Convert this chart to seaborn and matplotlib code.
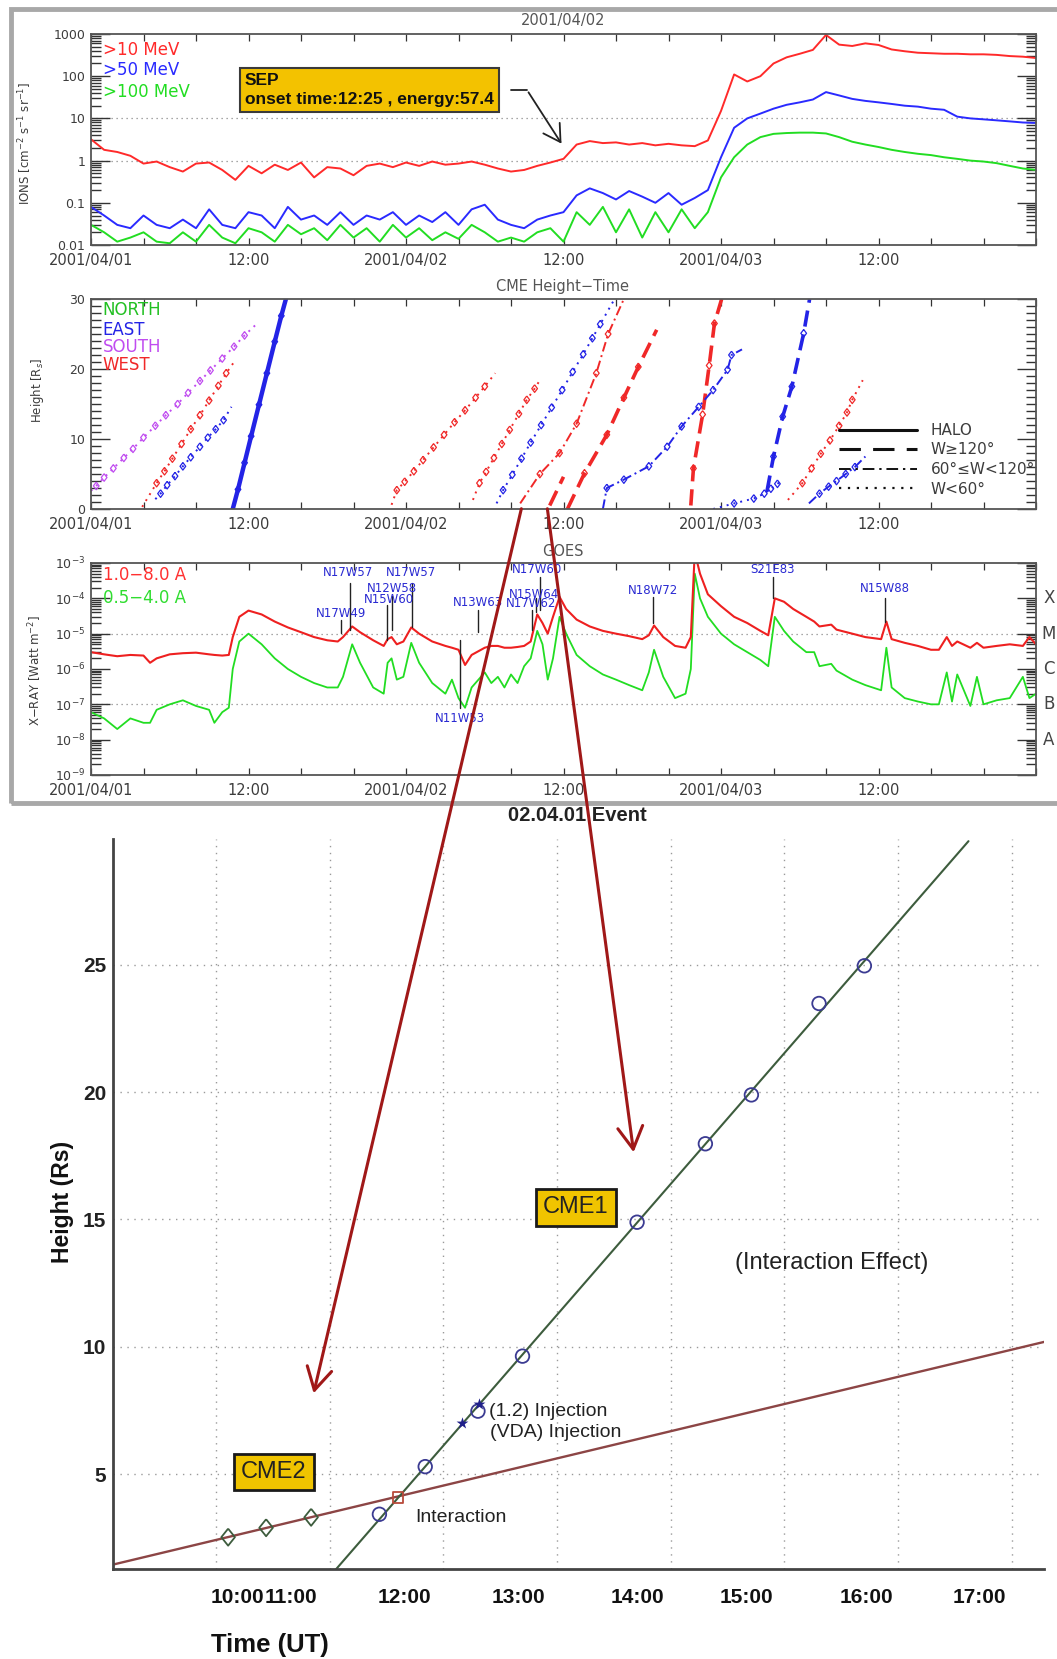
import numpy as np
import pandas as pd
import matplotlib
matplotlib.use("Agg")
import matplotlib.pyplot as plt
import seaborn as sns
from matplotlib.patches import Rectangle, FancyArrowPatch
from matplotlib.lines import Line2D
from matplotlib.ticker import FixedLocator, MultipleLocator, LogLocator, NullFormatter

# ====================== DATA ======================
date_hours = [0, 12, 24, 36, 48, 60]
date_labels = ["2001/04/01", "12:00", "2001/04/02", "12:00", "2001/04/03", "12:00"]

# --- SEP proton flux (hourly) ---
sep_hours = list(range(73))
sep_gt10 = [3.2, 1.8, 1.6, 1.3, 0.85, 0.95, 0.7, 0.55, 0.85, 0.9, 0.6, 0.35, 0.75, 0.5, 0.8, 0.6,
            0.9, 0.4, 0.7, 0.65, 0.45, 0.75, 0.85, 0.7, 0.9, 0.75, 0.95, 0.8, 0.85, 0.95, 0.8, 0.65,
            0.55, 0.6, 0.75, 0.9, 1.1, 2.4, 2.9, 2.6, 2.7, 2.4, 2.6, 2.3, 2.5, 2.3, 2.2, 3.0,
            15, 110, 75, 100, 200, 280, 340, 420, 950, 560, 520, 600, 550, 430, 390, 360, 350,
            340, 340, 330, 330, 320, 300, 290, 270]
sep_gt50 = [0.08, 0.05, 0.03, 0.025, 0.05, 0.03, 0.025, 0.04, 0.025, 0.07, 0.03, 0.025, 0.06, 0.05,
            0.025, 0.08, 0.04, 0.05, 0.03, 0.06, 0.03, 0.05, 0.04, 0.06, 0.03, 0.05, 0.035, 0.06,
            0.03, 0.07, 0.09, 0.04, 0.03, 0.025, 0.04, 0.05, 0.06, 0.15, 0.22, 0.17, 0.12, 0.19,
            0.14, 0.1, 0.17, 0.09, 0.13, 0.2, 1.2, 6, 10, 13, 17, 21, 24, 28, 42, 35, 29, 26, 24,
            22, 20, 19, 17, 16, 11, 10, 9.5, 9, 8.5, 8, 7.8]
sep_gt100 = [0.03, 0.02, 0.012, 0.015, 0.02, 0.012, 0.011, 0.02, 0.012, 0.03, 0.015, 0.011, 0.025,
             0.02, 0.012, 0.03, 0.018, 0.025, 0.013, 0.03, 0.015, 0.025, 0.012, 0.03, 0.015, 0.025,
             0.013, 0.02, 0.014, 0.03, 0.02, 0.012, 0.015, 0.012, 0.02, 0.025, 0.012, 0.06, 0.03,
             0.08, 0.02, 0.07, 0.015, 0.06, 0.02, 0.07, 0.025, 0.06, 0.4, 1.2, 2.4, 3.6, 4.3, 4.5,
             4.6, 4.6, 4.4, 3.6, 2.8, 2.4, 2.1, 1.8, 1.6, 1.45, 1.35, 1.2, 1.1, 1.0, 0.95, 0.87,
             0.75, 0.65, 0.6]
sep_labels = [">10 MeV", ">50 MeV", ">100 MeV"]
sep_yticks = [0.01, 0.1, 1, 10, 100, 1000]
sep_yticklabels = ["0.01", "0.1", "1", "10", "100", "1000"]

# --- CME height-time tracks ---
cme_dirs = ["SOUTH", "WEST", "EAST", "EAST", "WEST", "WEST", "EAST", "WEST",
            "WEST", "WEST", "WEST", "EAST", "EAST", "EAST", "WEST", "EAST"]
cme_widths = ["W<60", "W<60", "W<60", "HALO", "W<60", "W<60", "W<60", "60-120",
              "W>=120", "W>=120", "W>=120", "60-120", "W<60", "W>=120", "W<60", "60-120"]
cme_times = [
    [0.0, 0.4, 1.0, 1.7, 2.5, 3.2, 4.0, 4.9, 5.7, 6.6, 7.4, 8.3, 9.1, 10.0, 10.9, 11.7, 12.6],
    [3.9, 5.0, 5.6, 6.2, 6.9, 7.6, 8.3, 9.0, 9.7, 10.3, 10.9],
    [4.9, 5.3, 5.8, 6.4, 7.0, 7.6, 8.3, 8.9, 9.5, 10.1, 10.7],
    [10.8, 11.2, 11.7, 12.2, 12.8, 13.4, 14.0, 14.5, 14.85],
    [22.9, 23.3, 23.9, 24.6, 25.3, 26.1, 26.9, 27.7, 28.5, 29.3, 30.0, 30.8],
    [29.1, 29.6, 30.1, 30.7, 31.3, 31.9, 32.6, 33.2, 33.8, 34.3],
    [30.9, 31.4, 32.1, 32.8, 33.5, 34.3, 35.1, 35.9, 36.7, 37.5, 38.2, 38.8, 39.8],
    [32.7, 34.2, 35.7, 37.0, 38.5, 39.4, 40.6],
    [36.3, 37.6, 39.3, 40.6, 41.7, 43.1],
    [34.95, 36.0],
    [45.7, 45.9, 46.6, 47.1, 47.5, 48.05],
    [39.0, 39.3, 40.6, 42.5, 43.9, 45.0, 46.3, 47.4, 48.5, 48.8, 49.6],
    [47.4, 49.0, 50.5, 51.3, 51.8, 52.3, 52.6],
    [51.5, 52.0, 52.7, 53.4, 54.3, 54.75],
    [53.1, 54.2, 54.9, 55.6, 56.3, 57.0, 57.6, 58.0, 58.8],
    [54.7, 55.5, 56.2, 56.8, 57.5, 58.2, 59.0],
]
cme_heights = [
    [2.6, 3.3, 4.5, 5.8, 7.3, 8.6, 10.2, 11.9, 13.4, 15.0, 16.6, 18.3, 19.8, 21.5, 23.2, 24.8, 26.4],
    [0.3, 3.7, 5.4, 7.2, 9.3, 11.4, 13.4, 15.5, 17.6, 19.4, 21.0],
    [1.4, 2.2, 3.4, 4.7, 6.1, 7.4, 8.9, 10.2, 11.4, 12.7, 14.6],
    [0.0, 2.8, 6.6, 10.4, 14.9, 19.4, 23.9, 27.6, 30.0],
    [0.6, 2.7, 3.9, 5.4, 7.0, 8.8, 10.6, 12.4, 14.1, 15.9, 17.5, 19.4],
    [1.3, 3.7, 5.3, 7.3, 9.3, 11.3, 13.6, 15.6, 17.2, 18.7],
    [0.8, 2.7, 4.9, 7.2, 9.5, 12.0, 14.5, 17.0, 19.6, 22.1, 24.4, 26.4, 29.7],
    [0.8, 5.0, 8.0, 12.2, 19.4, 25.0, 30.0],
    [0.0, 5.1, 10.6, 15.9, 20.3, 25.6],
    [0.5, 4.6],
    [0.5, 5.8, 13.5, 20.5, 26.5, 30.0],
    [0.0, 3.0, 4.2, 6.1, 8.9, 11.8, 14.6, 17.0, 19.9, 22.0, 22.8],
    [0.0, 0.8, 1.5, 2.2, 2.9, 3.6, 4.0],
    [2.5, 7.5, 13.2, 17.5, 25.1, 30.0],
    [1.3, 3.7, 5.8, 7.9, 9.8, 11.9, 13.8, 15.6, 18.4],
    [0.8, 2.2, 3.2, 4.0, 5.0, 6.0, 7.5],
]
dir_labels = ["NORTH", "EAST", "SOUTH", "WEST"]
width_keys = ["HALO", "W>=120", "60-120", "W<60"]
width_labels = ["HALO", "W\u2265120\u00b0", "60\u00b0\u2264W<120\u00b0", "W<60\u00b0"]

# --- GOES X-ray flux ---
goes_hours = [0, 1, 2, 3, 4, 4.5, 5, 6, 7, 8, 9, 9.4, 10, 10.5, 10.8, 11.3, 12, 13, 14, 15, 16,
              17, 18, 18.8, 19.2, 19.9, 20.5, 21.5, 22.3, 22.6, 22.9, 23.3, 23.8, 24.4, 25, 26,
              27, 27.5, 28, 28.5, 29, 30, 30.5, 31, 31.5, 32, 32.5, 33, 33.5, 34.0, 34.4, 34.8,
              35.2, 35.7, 36.2, 37, 38, 39, 40, 41, 42, 42.5, 42.9, 43.6, 44.5, 45.3, 45.7, 46.0,
              46.4, 47, 48, 49, 50, 51, 51.6, 52.1, 52.8, 53.5, 54.5, 55.1, 55.5, 56.4, 56.8, 58,
              59, 60.2, 60.6, 61, 62, 63, 64, 64.6, 65.2, 65.6, 66, 67, 67.5, 68, 69, 70, 71,
              71.5, 72]
goes_long = [3.0e-6, 2.6e-6, 2.3e-6, 2.5e-6, 2.4e-6, 1.5e-6, 2.0e-6, 2.6e-6, 2.8e-6, 2.9e-6,
             2.6e-6, 2.5e-6, 2.4e-6, 2.5e-6, 8e-6, 3e-5, 4.5e-5, 3.5e-5, 2.2e-5, 1.5e-5, 1.1e-5,
             8e-6, 6.5e-6, 6e-6, 8e-6, 1.6e-5, 1.1e-5, 6.5e-6, 4.5e-6, 7e-6, 8e-6, 5e-6, 6e-6,
             1.5e-5, 1.0e-5, 6e-6, 4.5e-6, 4e-6, 3.5e-6, 1.3e-6, 2.5e-6, 4e-6, 4.5e-6, 4.5e-6,
             4e-6, 4e-6, 4.2e-6, 4.5e-6, 6e-6, 3.5e-5, 2e-5, 1e-5, 3e-5, 1.1e-4, 5e-5, 2.5e-5,
             1.6e-5, 1.2e-5, 1e-5, 8.5e-6, 7e-6, 9e-6, 1.7e-5, 8e-6, 4.5e-6, 4e-6, 8e-6, 2e-3,
             5e-4, 1.3e-4, 6e-5, 3e-5, 2e-5, 1.2e-5, 9e-6, 1e-4, 8e-5, 5e-5, 3e-5, 2.2e-5,
             1.6e-5, 1.8e-5, 1.3e-5, 1e-5, 8e-6, 7e-6, 2.2e-5, 7e-6, 5.5e-6, 4.5e-6, 3.5e-6,
             3.5e-6, 8e-6, 4.5e-6, 6e-6, 4e-6, 5.5e-6, 4e-6, 4.5e-6, 5e-6, 4.5e-6, 8e-6, 5e-6]
goes_short = [6e-8, 4e-8, 2e-8, 4e-8, 3e-8, 3e-8, 7e-8, 1e-7, 1.3e-7, 9e-8, 7e-8, 3e-8, 6e-8,
              8e-8, 1e-6, 6e-6, 1e-5, 5e-6, 2e-6, 1e-6, 6e-7, 4e-7, 3e-7, 3e-7, 6e-7, 5e-6,
              1.5e-6, 3e-7, 2e-7, 1.5e-6, 2e-6, 5e-7, 6e-7, 5.5e-6, 1.5e-6, 4e-7, 2e-7, 5e-7,
              1.5e-7, 8e-8, 3e-7, 8e-7, 4e-7, 6e-7, 3e-7, 7e-7, 4e-7, 1.2e-6, 2e-6, 1.2e-5,
              5e-6, 5e-7, 2e-6, 3e-5, 1e-5, 2.5e-6, 1.2e-6, 7e-7, 5e-7, 3.5e-7, 2.5e-7, 8e-7,
              3.5e-6, 6e-7, 1.5e-7, 2e-7, 1e-6, 5e-4, 1e-4, 3e-5, 1e-5, 5e-6, 3e-6, 1.8e-6,
              1.2e-6, 3e-5, 1.2e-5, 6e-6, 3e-6, 3e-6, 1.2e-6, 1.4e-6, 9e-7, 5e-7, 3.5e-7,
              2.5e-7, 4e-6, 3e-7, 1.5e-7, 1.2e-7, 1e-7, 1e-7, 8e-7, 1.2e-7, 7e-7, 9e-8, 6e-7,
              1e-7, 1.3e-7, 1.5e-7, 6e-7, 1.5e-7, 2e-7]
goes_labels = ["1.0\u22128.0 A", "0.5\u22124.0 A"]
goes_yticks = [1e-9, 1e-8, 1e-7, 1e-6, 1e-5, 1e-4, 1e-3]
goes_yticklabels = ["10$^{-9}$", "10$^{-8}$", "10$^{-7}$", "10$^{-6}$", "10$^{-5}$",
                    "10$^{-4}$", "10$^{-3}$"]
goes_classes = ["X", "M", "C", "B", "A"]
goes_class_levels = [1e-4, 1e-5, 1e-6, 1e-7, 1e-8]

flare_names = ["N17W49", "N17W57", "N15W60", "N12W58", "N17W57", "N11W53", "N13W63",
               "N17W62", "N15W64", "N17W60", "N18W72", "S21E83", "N15W88"]
flare_label_hours = [19.05, 19.58, 22.7, 22.93, 24.38, 28.11, 29.49, 33.52, 33.75, 33.98,
                     42.82, 51.89, 60.5]
flare_label_levels = [-4.44, -3.28, -4.02, -3.71, -3.28, -7.39, -4.13, -4.16, -3.88, -3.17,
                      -3.79, -3.17, -3.71]
flare_line_hours = [19.05, 19.73, 22.55, 22.93, 24.46, 28.1, 29.5, 33.58, 33.9, 34.2,
                    42.8, 51.96, 60.5]
flare_line_top = [-4.61, -3.57, -4.19, -3.93, -3.57, -5.18, -4.33, -4.33, -4.0, -3.4,
                  -3.96, -3.4, -3.99]
flare_line_bottom = [-4.98, -4.9, -5.18, -4.9, -4.81, -7.1, -4.95, -4.9, -4.4, -4.33,
                     -4.7, -3.99, -4.67]

# --- lower panel: 02.04.01 event ---
cme1_time = [11.437, 11.84, 12.304, 12.696, 13.704, 14.305, 14.71, 15.305, 15.704]
cme1_height = [3.42, 5.29, 7.47, 9.63, 14.89, 17.97, 19.89, 23.48, 24.96]
cme2_time = [10.106, 10.44, 10.836]
cme2_height = [2.52, 2.89, 3.30]
injection_time = [12.16, 12.31]
injection_height = [6.99, 7.75]
interaction_time = [11.60]
interaction_height = [4.09]
bottom_xticks = [10, 11, 12, 13, 14, 15, 16, 17]
bottom_xticklabels = ["10:00", "11:00", "12:00", "13:00", "14:00", "15:00", "16:00", "17:00"]
bottom_yticks = [5, 10, 15, 20, 25]

# ====================== LAYOUT ======================
W, H = 1057, 1659
sns.set_style("white")
plt.rcParams['font.family'] = ['Liberation Sans', 'DejaVu Sans']
plt.rcParams['mathtext.fontset'] = 'dejavusans'

fig = plt.figure(figsize=(W / 100, H / 100), dpi=100)
fig.patch.set_facecolor("white")


def fx(x):
    return x / W


def fy(y):
    return 1 - y / H


def axrect(l, t, r, b):
    return [l / W, 1 - b / H, (r - l) / W, (b - t) / H]


TOPC = "#3c3c3c"
TOPFONT = "DejaVu Sans"

# screenshot frame
fig.add_artist(Rectangle((fx(11), fy(803)), fx(1062) - fx(11), (803 - 9) / H,
                         transform=fig.transFigure, fill=False, ec="#a8a8a8", lw=3.5, zorder=0))


def style_top(ax, ylabel, ylab_x, ylab_y):
    ax.set_xlim(0, 72)
    ax.xaxis.set_major_locator(FixedLocator(date_hours))
    ax.xaxis.set_minor_locator(MultipleLocator(4))
    ax.set_xticklabels(date_labels)
    ax.tick_params(axis="x", which="both", direction="in", top=True, bottom=True,
                   length=5, width=0.9, color="#333", pad=6, labelsize=10.5, labelcolor=TOPC)
    ax.tick_params(axis="y", which="major", direction="in", left=True, right=True,
                   length=14, width=1.0, color="#333", pad=4, labelsize=9, labelcolor=TOPC)
    ax.tick_params(axis="y", which="minor", direction="in", left=True, right=True,
                   length=7, width=1.0, color="#333")
    for lab in ax.get_xticklabels() + ax.get_yticklabels():
        lab.set_family(TOPFONT)
    for s in ax.spines.values():
        s.set_color("#555")
        s.set_linewidth(1.3)
    ax.set_ylabel(ylabel, fontsize=8.5, color=TOPC, family=TOPFONT)
    ax.yaxis.set_label_coords(ylab_x, ylab_y)
    ax.set_facecolor("white")


# ---------------- Panel 1: SEP ----------------
ax1 = fig.add_axes(axrect(91, 34, 1036, 245))
ax1.set_yscale("log")
sep_colors = ["#ff2a2a", "#2a2aff", "#22dd22"]
for series, col in zip([sep_gt100, sep_gt50, sep_gt10], sep_colors[::-1]):
    sns.lineplot(x=sep_hours, y=series, ax=ax1, color=col, lw=1.4)
ax1.set_ylim(0.01, 1000)
ax1.yaxis.set_major_locator(FixedLocator(sep_yticks))
ax1.yaxis.set_minor_locator(LogLocator(base=10, subs=np.arange(2, 10)))
ax1.yaxis.set_minor_formatter(NullFormatter())
ax1.set_yticklabels(sep_yticklabels)
for lvl in [10, 1]:
    ax1.axhline(lvl, ls=(0, (1, 3)), color="#8a8a8a", lw=0.9, zorder=0)
style_top(ax1, "IONS [cm$^{-2}$ s$^{-1}$ sr$^{-1}$]", -0.0603, 0.48)
for lab, col, yy in zip(sep_labels, sep_colors, [0.924, 0.829, 0.725]):
    ax1.text(0.0125, yy, lab, transform=ax1.transAxes, color=col, fontsize=12,
             family=TOPFONT, va="center", ha="left")
fig.text(fx(563), fy(21), "2001/04/02", ha="center", va="center", fontsize=10.5,
         color="#555", family=TOPFONT)

# SEP annotation
fig.text(fx(245), fy(90), "SEP\nonset time:12:25 , energy:57.4", ha="left", va="center",
         fontsize=12.5, fontweight="bold", linespacing=1.35, color="#111",
         bbox=dict(boxstyle="square,pad=0.3", fc="#f3c200", ec="#3a3a3a", lw=1.5))
fig.add_artist(Line2D([fx(511), fx(527)], [fy(90), fy(90)], transform=fig.transFigure,
                      color="#222", lw=1.3))
fig.add_artist(FancyArrowPatch((fx(527), fy(90)), (fx(563), fy(146)), transform=fig.transFigure,
                               arrowstyle="->,head_length=0.6,head_width=0.35",
                               mutation_scale=20, color="#222", lw=1.3))

# ---------------- Panel 2: CME height-time ----------------
ax2 = fig.add_axes(axrect(91, 299, 1036, 509))
rows = []
for i, (ts, hs) in enumerate(zip(cme_times, cme_heights)):
    for j, (t, h) in enumerate(zip(ts, hs)):
        rows.append((i, t, h, cme_dirs[i], cme_widths[i], 0 < j < len(ts) - 1))
cme_df = pd.DataFrame(rows, columns=["cme", "t", "h", "dir", "width", "measured"])
dir_palette = {"NORTH": "#22c022", "EAST": "#2323e6", "SOUTH": "#c04cf0", "WEST": "#f02828"}
width_dashes = {"HALO": "", "W>=120": (4.5, 2.2), "60-120": (5, 2, 1, 2), "W<60": (1, 2.6)}
width_sizes = {"HALO": 3.2, "W>=120": 2.6, "60-120": 1.4, "W<60": 1.4}
sns.lineplot(data=cme_df, x="t", y="h", hue="dir", style="width", size="width", units="cme",
             estimator=None, sort=False, palette=dir_palette, dashes=width_dashes,
             sizes=width_sizes, legend=False, ax=ax2)
diamond = [(0, 1), (0.75, 0), (0, -1), (-0.75, 0), (0, 1)]
meas = cme_df[cme_df["measured"]]
for d in ["SOUTH", "WEST", "EAST"]:
    sub = meas[meas["dir"] == d]
    sns.scatterplot(x=sub["t"], y=sub["h"], marker=diamond, s=30, facecolor="none",
                    edgecolor=dir_palette[d], linewidth=0.9, ax=ax2, legend=False, zorder=3)
ax2.set_ylim(0, 30)
ax2.set_xlabel("")
ax2.set_ylabel("")
ax2.yaxis.set_major_locator(FixedLocator([0, 10, 20, 30]))
ax2.yaxis.set_minor_locator(MultipleLocator(1))
style_top(ax2, "Height [R$_s$]", -0.0476, 0.567)
for lab, yy in zip(dir_labels, [0.948, 0.852, 0.771, 0.686]):
    ax2.text(0.0125, yy, lab, transform=ax2.transAxes, color=dir_palette[lab], fontsize=12,
             family=TOPFONT, va="center", ha="left")
style_handles = [Line2D([], [], color="#111", lw=2.2, ls="-"),
                 Line2D([], [], color="#111", lw=2.2, ls=(0, (7, 4))),
                 Line2D([], [], color="#111", lw=1.4, ls=(0, (6, 2.5, 1.2, 2.5))),
                 Line2D([], [], color="#111", lw=1.6, ls=(0, (1, 3)))]
leg = ax2.legend(style_handles, width_labels, loc="upper left", bbox_to_anchor=(0.7915, 0.41),
                 frameon=False, handlelength=5.1, handletextpad=0.9, labelspacing=0.3,
                 borderpad=0, borderaxespad=0, prop={"family": TOPFONT, "size": 11})
for t in leg.get_texts():
    t.set_color(TOPC)
fig.text(fx(563), fy(287), "CME Height\u2212Time", ha="center", va="center", fontsize=10.5,
         color="#555", family=TOPFONT)

# ---------------- Panel 3: GOES ----------------
ax3 = fig.add_axes(axrect(91, 563, 1036, 775))
ax3.set_yscale("log")
sns.lineplot(x=goes_hours, y=goes_short, ax=ax3, color="#22dd22", lw=1.3)
sns.lineplot(x=goes_hours, y=goes_long, ax=ax3, color="#ee2020", lw=1.5)
ax3.set_ylim(1e-9, 1e-3)
ax3.yaxis.set_major_locator(FixedLocator(goes_yticks))
ax3.yaxis.set_minor_locator(LogLocator(base=10, subs=np.arange(2, 10)))
ax3.yaxis.set_minor_formatter(NullFormatter())
ax3.set_yticklabels(goes_yticklabels)
for lvl in [1e-5, 1e-7]:
    ax3.axhline(lvl, ls=(0, (1, 3)), color="#8a8a8a", lw=0.9, zorder=0)
style_top(ax3, "X\u2212RAY [Watt m$^{-2}$]", -0.0497, 0.495)
for lab, col, yy in zip(goes_labels, ["#ff3030", "#30dd30"], [0.943, 0.835]):
    ax3.text(0.0125, yy, lab, transform=ax3.transAxes, color=col, fontsize=12,
             family=TOPFONT, va="center", ha="left")
for name, lt, ll in zip(flare_names, flare_label_hours, flare_label_levels):
    ax3.text(lt, 10 ** ll, name, ha="center", va="center", fontsize=8.5, color="#2a2ad2",
             family=TOPFONT, zorder=5)
for lt, top, bot in zip(flare_line_hours, flare_line_top, flare_line_bottom):
    ax3.plot([lt, lt], [10 ** top, 10 ** bot], color="#222", lw=1.0, zorder=4)
yt = ax3.get_yaxis_transform()
for c, lvl in zip(goes_classes, goes_class_levels):
    ax3.text(1.0137, lvl, c, transform=yt, ha="center", va="center", fontsize=12,
             color="#444", family=TOPFONT, clip_on=False)
fig.text(fx(563), fy(551), "GOES", ha="center", va="center", fontsize=10.5,
         color="#555", family=TOPFONT)

# ---------------- Lower panel ----------------
fig.text(fx(577), fy(815), "02.04.01 Event", ha="center", va="center", fontsize=14.5,
         fontweight="bold", color="#222")

axb = fig.add_axes(axrect(113, 839, 1043.5, 1569))
axb.set_xlim(9.093, 17.28)
axb.set_ylim(1.27, 29.94)

fit1 = np.polyfit(cme1_time, cme1_height, 1)
fit2 = np.polyfit(cme2_time, cme2_height, 1)
x1 = np.array([10.9, 16.62])
x2 = np.array([9.0, 17.4])
sns.lineplot(x=x2, y=np.polyval(fit2, x2), ax=axb, color="#8c4545", lw=1.7)
sns.lineplot(x=x1, y=np.polyval(fit1, x1), ax=axb, color="#3d5c3d", lw=1.5)
diam_b = [(0, 1), (0.8, 0), (0, -1), (-0.8, 0), (0, 1)]
sns.scatterplot(x=cme2_time, y=cme2_height, marker=diam_b, s=150, facecolor="none",
                edgecolor="#3d5c3d", linewidth=1.3, ax=axb, zorder=4)
sns.scatterplot(x=cme1_time, y=cme1_height, marker="o", s=95, facecolor="none",
                edgecolor="#3b3b92", linewidth=1.3, ax=axb, zorder=4)
sns.scatterplot(x=injection_time, y=injection_height, marker="*", s=80, color="#20208a",
                linewidth=0, ax=axb, zorder=5)
sns.scatterplot(x=interaction_time, y=interaction_height, marker="s", s=60, facecolor="none",
                edgecolor="#b84a3a", linewidth=1.3, ax=axb, zorder=5)

axb.set_xticks(bottom_xticks)
axb.set_xticklabels([""] * len(bottom_xticks))
axb.set_yticks(bottom_yticks)
axb.set_yticklabels([str(v) for v in bottom_yticks], fontsize=15, fontweight="bold", color="#222")
axb.grid(True, ls=(0, (1, 4)), color="#9a9a9a", lw=1.0)
axb.tick_params(axis="both", direction="in", length=9, width=1.6, color="#444", pad=5)
for s in ["top", "right"]:
    axb.spines[s].set_visible(False)
for s in ["left", "bottom"]:
    axb.spines[s].set_color("#444")
    axb.spines[s].set_linewidth(2.0)
axb.set_xlabel("")
axb.set_ylabel("")
axb.set_facecolor("white")

xlabel_pos = [10.185, 10.66, 11.66, 12.66, 13.71, 14.67, 15.72, 16.72]
xt = axb.get_xaxis_transform()
for lab, pos in zip(bottom_xticklabels, xlabel_pos):
    axb.text(pos, -0.0397, lab, transform=xt, ha="center", va="center", fontsize=15,
             fontweight="bold", color="#111", clip_on=False)

fig.text(fx(270), fy(1645), "Time (UT)", ha="center", va="center", fontsize=18.5,
         fontweight="bold", color="#111")
fig.text(fx(63), fy(1202), "Height (Rs)", ha="center", va="center", fontsize=16.5,
         fontweight="bold", color="#111", rotation=90)

box = dict(boxstyle="square,pad=0.3", fc="#f0c400", ec="#1a1a1a", lw=2)
axb.text(13.165, 15.47, "CME1", ha="center", va="center", fontsize=17, color="#222", bbox=box)
axb.text(10.51, 5.08, "CME2", ha="center", va="center", fontsize=17, color="#222", bbox=box)
axb.text(12.40, 7.47, "(1.2) Injection", ha="left", va="center", fontsize=14, color="#222")
axb.text(12.41, 6.62, "(VDA) Injection", ha="left", va="center", fontsize=14, color="#222")
axb.text(11.75, 3.31, "Interaction", ha="left", va="center", fontsize=14, color="#222")
axb.text(15.42, 13.27, "(Interaction Effect)", ha="center", va="center", fontsize=17,
         color="#222")

# ---------------- connecting arrows ----------------
for (xa, ya), (xb, yb) in [((522, 506), (313, 1396)), ((547, 506), (634, 1155))]:
    fig.add_artist(FancyArrowPatch((fx(xa), fy(ya)), (fx(xb), fy(yb)),
                                   transform=fig.transFigure,
                                   arrowstyle="->,head_length=0.8,head_width=0.45",
                                   mutation_scale=20, color="#a01818", lw=2.2, zorder=10))

fig.savefig("out.png", dpi=100, facecolor="white")
